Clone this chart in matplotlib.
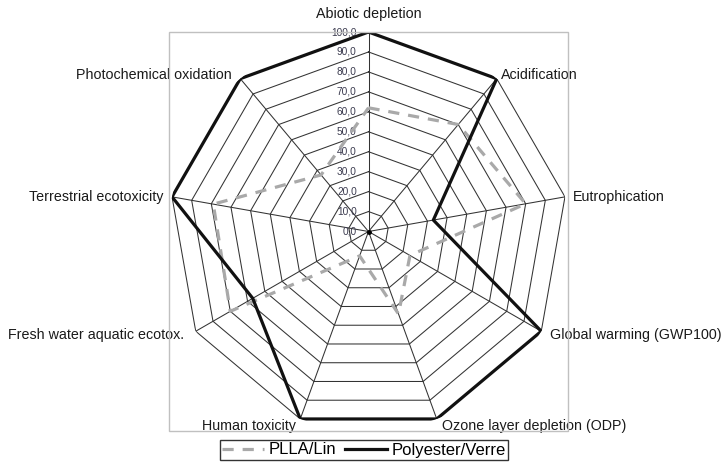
import numpy as np
import matplotlib
matplotlib.use("Agg")
from matplotlib import pyplot as plt
from matplotlib.patches import Rectangle

plt.rcParams['font.family'] = ['Liberation Sans', 'DejaVu Sans']

# impact categories, clockwise from the top
categories = ["Abiotic depletion", "Acidification", "Eutrophication",
              "Global warming (GWP100)", "Ozone layer depletion (ODP)",
              "Human toxicity", "Fresh water aquatic ecotox.",
              "Terrestrial ecotoxicity", "Photochemical oxidation"]
plla = [62, 70, 80, 24, 44, 13, 80, 79, 37]
polyester = [100, 100, 33, 100, 100, 100, 67, 100, 100]
rings = [0, 10, 20, 30, 40, 50, 60, 70, 80, 90, 100]

# label offsets (points) and alignment for each category
offsets = [(0, 13), (3, 3), (6, 0), (6.5, -3), (3.5, -5),
           (-3, -5), (-8, -3), (-6, 0), (-6, 3)]
aligns = ["center", "left", "left", "left", "left",
          "right", "right", "right", "right"]

n = len(categories)
theta = np.arange(n) * 2 * np.pi / n
theta_c = np.append(theta, theta[0])

fig = plt.figure(figsize=(7.23, 4.63), dpi=100)
l, b, w, h = 169/723, 32/463, 399/723, 399/463
ax = fig.add_axes([l, b, w, h], projection='polar')
ax.set_theta_zero_location('N')
ax.set_theta_direction(-1)
ax.set_ylim(0, 100)
ax.axis('off')

# plot area frame
fig.add_artist(Rectangle((l, b), w, h, transform=fig.transFigure,
                         fill=False, ec='#c0c0c0', lw=1))

# polygon grid and spokes
for r in rings[1:]:
    ax.plot(theta_c, [r]*(n+1), color='#333333', lw=0.75, zorder=1)
for t in theta:
    ax.plot([t, t], [0, 100], color='#333333', lw=0.75, zorder=1)
ax.plot([0], [0], 'o', color='black', ms=2.5, zorder=1)

for r in rings:
    ax.annotate(f"{r:.1f}".replace('.', ','), xy=(0, r), xytext=(-8.5, 0),
                textcoords='offset points', ha='right', va='center',
                fontsize=7.3, color='#3b3b4f', annotation_clip=False)

ax.plot(theta_c, plla + plla[:1], color='#a9a9a9', lw=2.3,
        linestyle=(0, (3.5, 2.8)), label='PLLA/Lin', zorder=3)
ax.plot(theta_c, polyester + polyester[:1], color='#111111', lw=2.3,
        label='Polyester/Verre', zorder=4)

for i in range(n):
    ax.annotate(categories[i], xy=(theta[i], 100), xytext=offsets[i],
                textcoords='offset points', ha=aligns[i], va='center',
                fontsize=10.3, color='#1a1a1a', annotation_clip=False)

leg = fig.legend(loc='upper center', bbox_to_anchor=(364/723, 1 - 440/463),
                 ncol=2, fontsize=12, frameon=True, fancybox=False,
                 handlelength=2.5, handletextpad=0.3, columnspacing=0.5,
                 borderpad=0.15, borderaxespad=0)
leg.get_frame().set_edgecolor('black')
leg.get_frame().set_linewidth(1)

fig.savefig("out.png", dpi=100)
